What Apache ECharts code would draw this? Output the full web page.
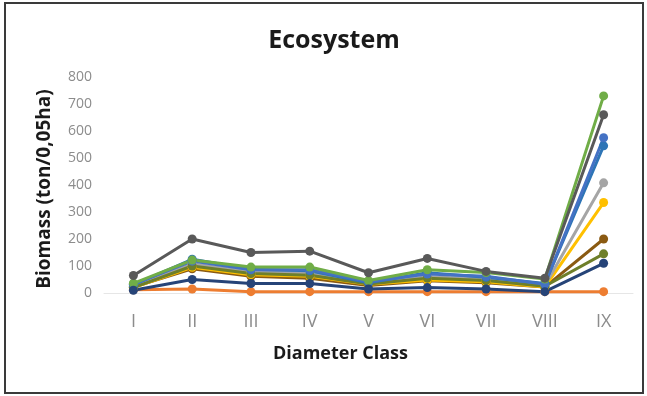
<!DOCTYPE html>
<html>
<head>
<meta charset="utf-8">
<script src="https://cdn.jsdelivr.net/npm/echarts@6/dist/echarts.min.js"></script>
<style>
  html, body { margin: 0; padding: 0; background: #ffffff; }
  #chart { width: 647px; height: 396px; }
</style>
</head>
<body>
<div id="chart"></div>
<script>
// Diameter classes along the x axis
const classes = ['I', 'II', 'III', 'IV', 'V', 'VI', 'VII', 'VIII', 'IX'];
const yTicks = [0, 100, 200, 300, 400, 500, 600, 700, 800];

// Biomass (ton/0,05ha) per plot, one array per line
const plotOrange   = [12, 15, 5, 5, 5, 5, 5, 5, 5];
const plotBrown    = [22, 90, 62, 55, 28, 45, 38, 22, 200];
const plotYellow   = [20, 95, 68, 62, 32, 48, 42, 22, 335];
const plotGray     = [25, 108, 78, 75, 35, 60, 52, 28, 408];
const plotOlive    = [20, 100, 72, 66, 33, 55, 46, 25, 145];
const plotTeal     = [30, 125, 88, 82, 38, 75, 58, 35, 545];
const plotBlue     = [32, 118, 86, 86, 42, 70, 62, 32, 575];
const plotGreen    = [36, 122, 96, 96, 46, 86, 76, 52, 730];
const plotDarkGray = [65, 200, 150, 155, 75, 128, 80, 55, 660];
const plotNavy     = [10, 50, 35, 35, 15, 20, 15, 5, 110];

const seriesDefs = [
  { name: 'P1',  data: plotOrange,   color: '#ED7D31' },
  { name: 'P2',  data: plotBrown,    color: '#8A5A12' },
  { name: 'P3',  data: plotYellow,   color: '#FFC000' },
  { name: 'P4',  data: plotGray,     color: '#A5A5A5' },
  { name: 'P5',  data: plotOlive,    color: '#6E7F2A' },
  { name: 'P6',  data: plotTeal,     color: '#2E75B6' },
  { name: 'P7',  data: plotBlue,     color: '#4472C4' },
  { name: 'P8',  data: plotGreen,    color: '#70AD47' },
  { name: 'P9',  data: plotDarkGray, color: '#595959' },
  { name: 'P10', data: plotNavy,     color: '#264478' }
];

const chart = echarts.init(document.getElementById('chart'), null, { renderer: 'canvas' });

const FONT = '"Open Sans", Lato, sans-serif';

chart.setOption({
  backgroundColor: '#ffffff',
  animation: false,
  title: {
    text: 'Ecosystem',
    left: 329,
    textAlign: 'center',
    top: 23,
    textStyle: { fontFamily: FONT, fontSize: 25, fontWeight: 'bold', color: '#1a1a1a' }
  },
  graphic: [{
    type: 'rect',
    shape: { x: 5, y: 3, width: 638, height: 390 },
    style: { fill: 'none', stroke: '#3a3a3a', lineWidth: 2 },
    silent: true
  }],
  grid: { left: 104, right: 14, top: 77, bottom: 103 },
  xAxis: {
    type: 'category',
    data: classes,
    boundaryGap: true,
    name: 'Diameter Class',
    nameLocation: 'middle',
    nameGap: 52,
    nameTextStyle: { fontFamily: FONT, fontSize: 18, fontWeight: 'bold', color: '#1a1a1a', padding: [0, 56, 0, 0] },
    axisLine: { show: true, lineStyle: { color: '#e6e6e6', width: 1 } },
    axisTick: { show: false },
    axisLabel: { fontFamily: FONT, fontSize: 18, color: '#8c8c8c', margin: 20 },
    splitLine: { show: false }
  },
  yAxis: {
    type: 'value',
    min: 0,
    max: 800,
    interval: 100,
    name: 'Biomass (ton/0,05ha)',
    nameLocation: 'middle',
    nameGap: 50,
    nameRotate: 90,
    nameTextStyle: { fontFamily: FONT, fontSize: 19, fontWeight: 'bold', color: '#1a1a1a', padding: [0, 8, 0, 0] },
    axisLine: { show: false },
    axisTick: { show: false },
    axisLabel: {
      fontFamily: FONT, fontSize: 14, color: '#8c8c8c', margin: 12,
      formatter: v => (yTicks.includes(v) ? String(v) : '')
    },
    splitLine: { show: false }
  },
  series: seriesDefs.map(s => ({
    name: s.name,
    type: 'line',
    data: s.data,
    symbol: 'circle',
    symbolSize: 9,
    lineStyle: { width: 3, color: s.color },
    itemStyle: { color: s.color },
    emphasis: { disabled: true }
  }))
});
</script>
</body>
</html>
